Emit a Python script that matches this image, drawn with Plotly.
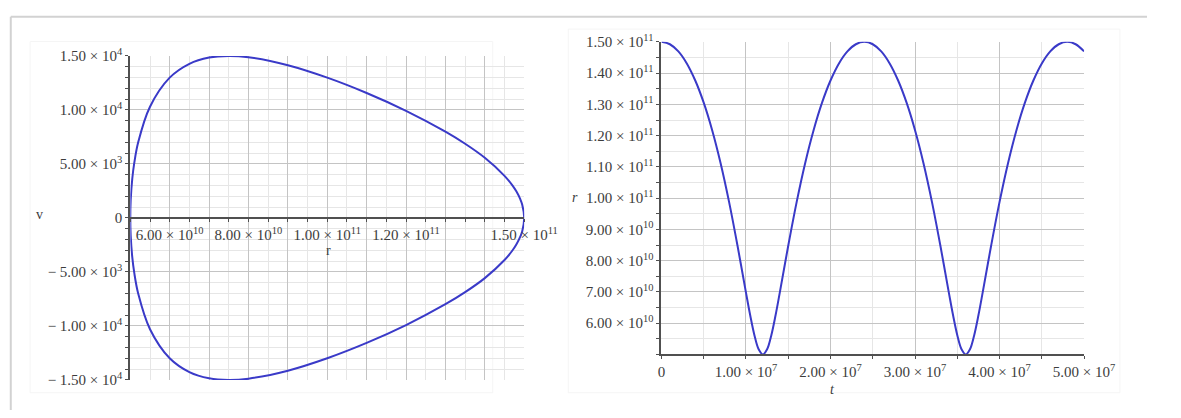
import plotly.graph_objects as go

# ---------------- data ----------------
# Left panel: phase portrait, r (m) vs v (m/s), upper branch (lower branch is its mirror)
r_upper = [5.00e10, 5.01e10, 5.05e10, 5.10e10, 5.20e10, 5.50e10, 6.00e10, 6.50e10,
           7.00e10, 7.50e10, 8.00e10, 9.00e10, 1.00e11, 1.10e11, 1.20e11, 1.30e11,
           1.35e11, 1.40e11, 1.45e11, 1.47e11, 1.48e11, 1.49e11, 1.495e11, 1.50e11]
v_upper = [0, 1640, 3630, 5070, 7000, 10300, 12990, 14270,
           14850, 15000, 14880, 14140, 12990, 11570, 9920, 7990,
           6870, 5570, 3900, 3015, 2460, 1735, 1225, 0]

# Right panel: r (m) vs t (s)
t_vals = [0, 1e6, 2e6, 3e6, 4e6, 5e6, 6e6, 7e6, 8e6, 9e6, 10e6, 10.5e6, 11e6, 11.5e6,
          12e6, 12.5e6, 13e6, 13.5e6, 14e6, 15e6, 16e6, 17e6, 18e6, 19e6, 20e6, 21e6,
          22e6, 23e6, 24e6, 25e6, 26e6, 27e6, 28e6, 29e6, 30e6, 31e6, 32e6, 33e6,
          34e6, 34.5e6, 35e6, 35.5e6, 36e6, 36.5e6, 37e6, 37.5e6, 38e6, 39e6, 40e6,
          41e6, 42e6, 43e6, 44e6, 45e6, 46e6, 47e6, 48e6, 49e6, 50e6]
r_vals = [1.5000e11, 1.4924e11, 1.4695e11, 1.4310e11, 1.3764e11, 1.3055e11, 1.2175e11,
          1.1119e11, 9.882e10, 8.478e10, 6.979e10, 6.254e10, 5.619e10, 5.167e10,
          5.000e10, 5.167e10, 5.619e10, 6.254e10, 6.979e10, 8.478e10, 9.882e10,
          1.1119e11, 1.2175e11, 1.3055e11, 1.3764e11, 1.4310e11, 1.4695e11, 1.4924e11,
          1.5000e11, 1.4924e11, 1.4695e11, 1.4310e11, 1.3764e11, 1.3055e11, 1.2175e11,
          1.1119e11, 9.882e10, 8.478e10, 6.979e10, 6.254e10, 5.619e10, 5.167e10,
          5.000e10, 5.167e10, 5.619e10, 6.254e10, 6.979e10, 8.478e10, 9.882e10,
          1.1119e11, 1.2175e11, 1.3055e11, 1.3764e11, 1.4310e11, 1.4695e11, 1.4924e11,
          1.5000e11, 1.4924e11, 1.4695e11]

# tick labels
left_x_ticks = [5e10, 6e10, 7e10, 8e10, 9e10, 1e11, 1.1e11, 1.2e11, 1.3e11, 1.4e11, 1.5e11]
left_x_text = ["", "6.00 × 10<sup>10</sup>", "", "8.00 × 10<sup>10</sup>", "",
               "1.00 × 10<sup>11</sup>", "", "1.20 × 10<sup>11</sup>", "", "",
               "1.50 × 10<sup>11</sup>"]
left_y_ticks = [-15000, -10000, -5000, 0, 5000, 10000, 15000]
left_y_text = ["− 1.50 × 10<sup>4</sup>", "− 1.00 × 10<sup>4</sup>", "− 5.00 × 10<sup>3</sup>",
               "0", "5.00 × 10<sup>3</sup>", "1.00 × 10<sup>4</sup>", "1.50 × 10<sup>4</sup>"]
right_x_ticks = [0, 1e7, 2e7, 3e7, 4e7, 5e7]
right_x_text = ["0", "1.00 × 10<sup>7</sup>", "2.00 × 10<sup>7</sup>", "3.00 × 10<sup>7</sup>",
                "4.00 × 10<sup>7</sup>", "5.00 × 10<sup>7</sup>"]
right_y_ticks = [5e10, 6e10, 7e10, 8e10, 9e10, 1e11, 1.1e11, 1.2e11, 1.3e11, 1.4e11, 1.5e11]
right_y_text = ["", "6.00 × 10<sup>10</sup>", "7.00 × 10<sup>10</sup>", "8.00 × 10<sup>10</sup>",
                "9.00 × 10<sup>10</sup>", "1.00 × 10<sup>11</sup>", "1.10 × 10<sup>11</sup>",
                "1.20 × 10<sup>11</sup>", "1.30 × 10<sup>11</sup>", "1.40 × 10<sup>11</sup>",
                "1.50 × 10<sup>11</sup>"]

# closed loop for the phase portrait
loop_r = r_upper + r_upper[::-1][1:]
loop_v = v_upper + [-v for v in v_upper[::-1][1:]]

# ---------------- figure ----------------
W, H = 1181, 418
LINE = "#3a3ac8"
FONT = "Liberation Serif"
TXT = "#3c3c3c"
AX = "#505050"
GRID = "#c4c4c4"
MINOR = "#e6e6e6"

def px(x):
    return x / W

def py(y):
    return 1 - y / H

fig = go.Figure()
fig.add_trace(go.Scatter(x=loop_r, y=loop_v, mode="lines",
                         line=dict(color=LINE, width=2, shape="spline", smoothing=1.0),
                         xaxis="x", yaxis="y", showlegend=False, hoverinfo="skip"))
fig.add_trace(go.Scatter(x=t_vals, y=r_vals, mode="lines",
                         line=dict(color=LINE, width=2, shape="spline", smoothing=1.0),
                         xaxis="x2", yaxis="y2", showlegend=False, hoverinfo="skip"))

L_x0, L_x1, L_y0, L_y1 = 130.5, 537.5, 48, 386.6
R_x0, R_x1, R_y0, R_y1 = 679.3, 1116, 33.3, 360

tickfont = dict(family=FONT, size=15, color=TXT)

fig.update_layout(
    width=W, height=H, margin=dict(l=0, r=0, t=0, b=0),
    paper_bgcolor="white", plot_bgcolor="white",
    xaxis=dict(domain=[px(L_x0), px(L_x1)], range=[5e10, 1.5e11], anchor="free",
               position=(py(L_y1) + py(L_y0)) / 2,
               tickmode="array", tickvals=left_x_ticks, ticktext=left_x_text,
               showgrid=True, gridcolor=GRID, gridwidth=1,
               showline=True, linecolor=AX, linewidth=2,
               ticks="outside", ticklen=3, tickcolor=AX, tickfont=tickfont,
               zeroline=False, fixedrange=True,
               minor=dict(tick0=5e10, dtick=5e9, showgrid=True, gridcolor=MINOR,
                          ticks="outside", ticklen=3, tickcolor=AX)),
    yaxis=dict(domain=[py(L_y1), py(L_y0)], range=[-15000, 15000], anchor="x",
               tickmode="array", tickvals=left_y_ticks, ticktext=left_y_text,
               showgrid=True, gridcolor=GRID, gridwidth=1,
               showline=True, linecolor=AX, linewidth=2,
               ticks="outside", ticklen=3, tickcolor=AX, tickfont=tickfont,
               zeroline=True, zerolinecolor=AX, zerolinewidth=2, fixedrange=True,
               minor=dict(tick0=0, dtick=1000, showgrid=True, gridcolor=MINOR,
                          ticks="outside", ticklen=3, tickcolor=AX)),
    xaxis2=dict(domain=[px(R_x0), px(R_x1)], range=[0, 5e7], anchor="y2",
                tickmode="array", tickvals=right_x_ticks, ticktext=right_x_text,
                showgrid=True, gridcolor=GRID, gridwidth=1,
                showline=True, linecolor=AX, linewidth=2,
                ticks="outside", ticklen=3, tickcolor=AX, tickfont=tickfont,
                zeroline=False, fixedrange=True,
                minor=dict(tick0=0, dtick=5e6, showgrid=True, gridcolor=MINOR,
                           ticks="outside", ticklen=3, tickcolor=AX)),
    yaxis2=dict(domain=[py(R_y1), py(R_y0)], range=[5e10, 1.5e11], anchor="x2",
                tickmode="array", tickvals=right_y_ticks, ticktext=right_y_text,
                showgrid=True, gridcolor=GRID, gridwidth=1,
                showline=True, linecolor=AX, linewidth=2,
                ticks="outside", ticklen=3, tickcolor=AX, tickfont=tickfont,
                zeroline=False, fixedrange=True,
                minor=dict(tick0=5e10, dtick=5e9, showgrid=True, gridcolor=MINOR,
                           ticks="outside", ticklen=3, tickcolor=AX)),
)

labfont = dict(family=FONT, size=14, color=TXT)
annotations = [
    dict(text="v", x=px(37), y=py(214)),
    dict(text="r", x=px(335), y=py(251)),
    dict(text="<i>r</i>", x=px(590), y=py(196)),
    dict(text="<i>t</i>", x=px(856), y=py(397)),
]
for a in annotations:
    fig.add_annotation(xref="paper", yref="paper", showarrow=False, font=labfont,
                       xanchor="center", yanchor="middle", **a)

# outer frame lines and faint panel boxes
fig.add_shape(type="line", xref="paper", yref="paper", x0=px(7), x1=1, y0=py(7), y1=py(7),
              line=dict(color="#d2d2d2", width=2))
fig.add_shape(type="line", xref="paper", yref="paper", x0=px(7), x1=px(7), y0=0, y1=py(7),
              line=dict(color="#d2d2d2", width=2))
fig.add_shape(type="rect", xref="paper", yref="paper", x0=px(27), x1=px(505), y0=py(400), y1=py(33),
              line=dict(color="#f5f5f5", width=1), layer="below")
fig.add_shape(type="rect", xref="paper", yref="paper", x0=px(583), x1=px(1153), y0=py(400), y1=py(20),
              line=dict(color="#f5f5f5", width=1), layer="below")

POST = (
    "document.documentElement.style.margin='0';"
    "document.body.style.margin='0';"
    "document.documentElement.style.overflow='hidden';"
    "document.body.style.overflow='hidden';"
)
fig.write_html("out.html", config={"displayModeBar": False}, post_script=POST)
